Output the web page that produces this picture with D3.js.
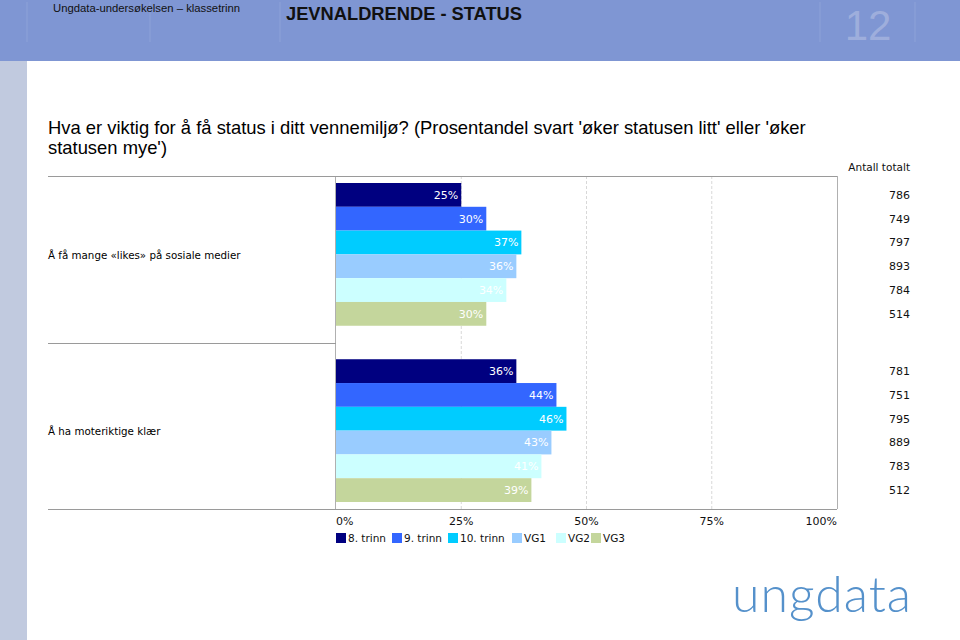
<!DOCTYPE html>
<html><head><meta charset="utf-8">
<script src="https://cdn.jsdelivr.net/npm/d3@7"></script>
<style>body{margin:0;background:#fff}svg{display:block}</style>
</head><body>
<svg id="c" width="960" height="640"></svg>
<script>
const categories = ["Å få mange «likes» på sosiale medier", "Å ha moteriktige klær"];
const series = ["8. trinn", "9. trinn", "10. trinn", "VG1", "VG2", "VG3"];
const colors = ["#000080", "#3366ff", "#00ccff", "#99ccff", "#ccffff", "#c4d69c"];
const values = [
  [25, 30, 37, 36, 34, 30],
  [36, 44, 46, 43, 41, 39]
];
const totals = [
  [786, 749, 797, 893, 784, 514],
  [781, 751, 795, 889, 783, 512]
];
const ticks = [0, 25, 50, 75, 100];

const svg = d3.select("#c");
// header & side strip
svg.append("rect").attr("x",0).attr("y",0).attr("width",960).attr("height",61).attr("fill","#7f96d3");
svg.append("rect").attr("x",0).attr("y",61).attr("width",27).attr("height",579).attr("fill","#c1cadf");
[27,150,280,820,915].forEach(x=>svg.append("line").attr("x1",x).attr("x2",x).attr("y1",2).attr("y2",42).attr("stroke","#8ea2d8").attr("stroke-width",1));
svg.append("text").attr("x",53).attr("y",12).attr("font-family","Liberation Sans, Arial").attr("font-size",11.3).attr("fill","#111").text("Ungdata-undersøkelsen – klassetrinn");
svg.append("text").attr("x",286).attr("y",20).attr("font-family","Liberation Sans, Arial").attr("font-weight","bold").attr("font-size",18.3).attr("fill","#111").text("JEVNALDRENDE - STATUS");
svg.append("text").attr("x",868).attr("y",40).attr("text-anchor","middle").attr("font-family","Liberation Sans, Arial").attr("font-size",42).attr("fill","#9eaedc").text("12");

// title
const t = svg.append("text").attr("font-family","Liberation Sans, Arial").attr("font-size",18.4).attr("fill","#000");
t.append("tspan").attr("x",48).attr("y",134).text("Hva er viktig for å få status i ditt vennemiljø? (Prosentandel svart 'øker statusen litt' eller 'øker");
t.append("tspan").attr("x",48).attr("y",154).text("statusen mye')");

const x = d3.scaleLinear().domain([0,100]).range([336,837]);
const frame = d3.scaleBand().domain(categories).range([176,509]).padding(0);
const yg = d3.scaleBand().domain(categories).range([183,502]).paddingInner(0.19).paddingOuter(0);
const yb = d3.scaleBand().domain(series).range([0, yg.bandwidth()]).padding(0);

const font = "DejaVu Sans, Verdana, sans-serif";
// gridlines
svg.append("g").selectAll("line").data(ticks.filter(d=>d>0&&d<100)).join("line")
  .attr("x1",d=>x(d)).attr("x2",d=>x(d)).attr("y1",176).attr("y2",509)
  .attr("stroke","#d8d8d8").attr("stroke-dasharray","3,2");
// frame
svg.append("line").attr("x1",x(0)).attr("x2",x(100)).attr("y1",176.5).attr("y2",176.5).attr("stroke","#b0b0b0");
svg.append("line").attr("x1",x(100)+0.5).attr("x2",x(100)+0.5).attr("y1",176).attr("y2",509).attr("stroke","#b0b0b0");
svg.append("line").attr("x1",x(0)-0.5).attr("x2",x(0)-0.5).attr("y1",176).attr("y2",509).attr("stroke","#b0b0b0");
// separators
const seps = categories.map(c=>frame(c)).concat([frame.range()[1]]);
svg.append("g").selectAll("line").data(seps).join("line")
  .attr("x1",48).attr("x2",d=>d===176||d===509?x(100):x(0)).attr("y1",d=>Math.round(d)+0.5).attr("y2",d=>Math.round(d)+0.5)
  .attr("stroke","#9a9a9a");

// category labels
svg.append("g").selectAll("text").data(categories).join("text")
  .attr("x",48).attr("y",c=>yg(c)+yg.bandwidth()/2+1)
  .attr("dy","0.35em").attr("font-family",font).attr("font-size",10.3).attr("fill","#000").text(c=>c);

// bars
categories.forEach((c,ci)=>{
  const g = svg.append("g").attr("transform",`translate(0,${yg(c)})`);
  g.selectAll("rect").data(values[ci]).join("rect")
    .attr("x",x(0)).attr("y",(d,i)=>yb(series[i])).attr("width",d=>x(d)-x(0)).attr("height",yb.bandwidth())
    .attr("fill",(d,i)=>colors[i]);
  g.selectAll("text.v").data(values[ci]).join("text").attr("class","v")
    .attr("x",d=>x(d)-3).attr("y",(d,i)=>yb(series[i])+yb.bandwidth()/2).attr("dy","0.35em")
    .attr("text-anchor","end").attr("font-family",font).attr("font-size",11).attr("fill","#fff")
    .text(d=>d+"%");
  g.selectAll("text.n").data(totals[ci]).join("text").attr("class","n")
    .attr("x",910).attr("y",(d,i)=>yb(series[i])+yb.bandwidth()/2).attr("dy","0.35em")
    .attr("text-anchor","end").attr("font-family",font).attr("font-size",11).attr("fill","#111")
    .text(d=>d);
});
svg.append("text").attr("x",910).attr("y",171).attr("text-anchor","end").attr("font-family",font).attr("font-size",10.5).attr("fill","#111").text("Antall totalt");

// x axis labels
svg.append("g").selectAll("text").data(ticks).join("text")
  .attr("x",d=>x(d)).attr("y",525)
  .attr("text-anchor",d=>d===0?"start":d===100?"end":"middle")
  .attr("font-family",font).attr("font-size",11).attr("fill","#111").text(d=>d+"%");

// legend
const legX = [336, 392, 448, 512, 556, 591];
const lg = svg.append("g").selectAll("g").data(series).join("g").attr("transform",(d,i)=>`translate(${legX[i]},533)`);
lg.append("rect").attr("width",10).attr("height",10).attr("fill",(d,i)=>colors[i]);
lg.append("text").attr("x",12).attr("y",5).attr("dy","0.35em").attr("font-family",font).attr("font-size",10.5).attr("fill","#111").text(d=>d);

// logo
svg.append("text").attr("x",822).attr("y",612).attr("text-anchor","middle").attr("font-family","Lato, sans-serif").attr("font-weight",300).attr("font-size",50).attr("fill","#5591cb").attr("letter-spacing",1).text("ungdata");
</script>
</body></html>
